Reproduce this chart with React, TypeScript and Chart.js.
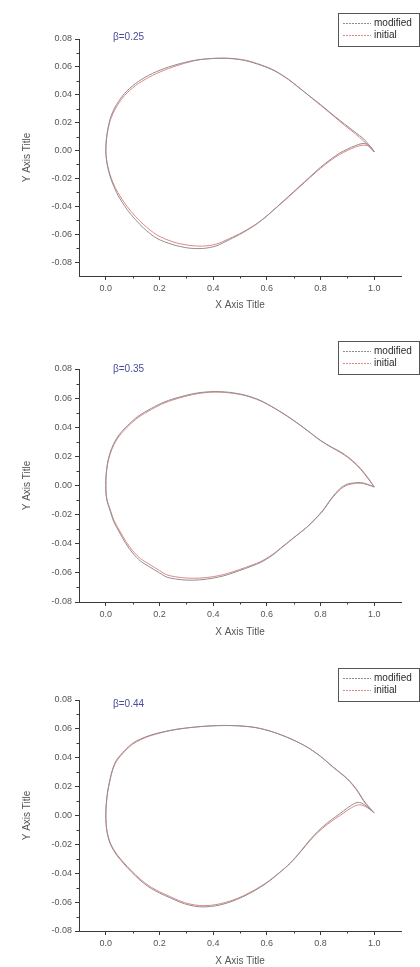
import React, { useEffect, useRef } from 'react';
import { Chart, registerables } from 'chart.js';

Chart.register(...registerables);

// ---------- tick labels / names ----------
const X_TICKS = [0, 0.2, 0.4, 0.6, 0.8, 1.0];
const X_MINOR = [0.1, 0.3, 0.5, 0.7, 0.9];
const Y_TICKS = [-0.08, -0.06, -0.04, -0.02, 0, 0.02, 0.04, 0.06, 0.08];
const Y_MINOR = [-0.07, -0.05, -0.03, -0.01, 0.01, 0.03, 0.05, 0.07];
const SERIES_NAMES = ['modified', 'initial'];
const SECTION_LABELS = ['β=0.25', 'β=0.35', 'β=0.44'];
const X_TITLE = 'X Axis Title';
const Y_TITLE = 'Y Axis Title';

// ---------- section 1 (β=0.25) ----------
const xUp1 = [1.0, 0.985, 0.96, 0.93, 0.89, 0.85, 0.80, 0.76, 0.72, 0.68, 0.63, 0.58, 0.52, 0.46, 0.40, 0.34, 0.28, 0.22, 0.16, 0.11, 0.07, 0.04, 0.02, 0.008, 0.002, 0.0];
const yUpMod1 = [-0.001, 0.003, 0.0085, 0.013, 0.019, 0.025, 0.033, 0.039, 0.045, 0.051, 0.057, 0.061, 0.0645, 0.066, 0.066, 0.065, 0.0625, 0.059, 0.054, 0.048, 0.041, 0.033, 0.025, 0.016, 0.008, 0.0];
const yUpIni1 = [-0.001, 0.002, 0.007, 0.012, 0.018, 0.0245, 0.0325, 0.0388, 0.0452, 0.0512, 0.0573, 0.0614, 0.0648, 0.0662, 0.0661, 0.0648, 0.0618, 0.0578, 0.0525, 0.0465, 0.0395, 0.0315, 0.0235, 0.015, 0.0075, 0.0];
const xLo1 = [0.002, 0.007, 0.015, 0.026, 0.045, 0.078, 0.11, 0.14, 0.19, 0.25, 0.31, 0.36, 0.41, 0.46, 0.51, 0.56, 0.60, 0.64, 0.68, 0.72, 0.76, 0.80, 0.84, 0.87, 0.90, 0.93, 0.955, 0.975, 0.99, 1.0];
const yLoMod1 = [-0.006, -0.012, -0.018, -0.024, -0.032, -0.042, -0.0495, -0.0555, -0.063, -0.0675, -0.0700, -0.0703, -0.0685, -0.064, -0.059, -0.053, -0.047, -0.040, -0.033, -0.026, -0.019, -0.012, -0.006, -0.002, 0.001, 0.0035, 0.005, 0.0045, 0.002, -0.001];
const yLoIni1 = [-0.0055, -0.011, -0.0168, -0.0228, -0.0302, -0.0398, -0.0472, -0.053, -0.0605, -0.0655, -0.068, -0.0686, -0.0672, -0.0632, -0.0585, -0.0528, -0.0468, -0.0402, -0.0335, -0.0265, -0.0195, -0.0128, -0.0068, -0.003, 0.0, 0.0025, 0.0038, 0.0035, 0.0015, -0.001];

// ---------- section 2 (β=0.35) ----------
const xUp2 = [1.0, 0.98, 0.95, 0.92, 0.88, 0.84, 0.80, 0.75, 0.69, 0.63, 0.575, 0.52, 0.46, 0.40, 0.34, 0.28, 0.22, 0.17, 0.12, 0.08, 0.05, 0.03, 0.015, 0.006, 0.001, 0.0];
const yUpMod2 = [-0.001, 0.0045, 0.0115, 0.017, 0.0225, 0.0265, 0.031, 0.038, 0.046, 0.053, 0.0585, 0.062, 0.064, 0.0645, 0.0635, 0.061, 0.0575, 0.053, 0.0475, 0.041, 0.035, 0.029, 0.022, 0.015, 0.007, 0.0];
const yUpIni2 = [-0.001, 0.004, 0.011, 0.0165, 0.022, 0.0262, 0.0308, 0.0378, 0.0458, 0.0528, 0.0582, 0.0617, 0.0636, 0.0641, 0.063, 0.0604, 0.0568, 0.0522, 0.0466, 0.0401, 0.034, 0.028, 0.021, 0.0143, 0.0067, 0.0];
const xLo2 = [0.001, 0.005, 0.015, 0.03, 0.052, 0.075, 0.10, 0.13, 0.164, 0.2, 0.227, 0.26, 0.302, 0.35, 0.40, 0.44, 0.474, 0.52, 0.575, 0.62, 0.66, 0.70, 0.75, 0.78, 0.81, 0.84, 0.873, 0.90, 0.922, 0.94, 0.96, 0.98, 1.0];
const yLoMod2 = [-0.006, -0.011, -0.0168, -0.025, -0.0326, -0.040, -0.0464, -0.052, -0.056, -0.060, -0.0629, -0.0642, -0.065, -0.0648, -0.0636, -0.062, -0.060, -0.057, -0.053, -0.048, -0.042, -0.036, -0.0285, -0.023, -0.0168, -0.009, -0.002, 0.001, 0.0017, 0.002, 0.0017, 0.0005, -0.001];
const yLoIni2 = [-0.0055, -0.0103, -0.0158, -0.0238, -0.0312, -0.0385, -0.0448, -0.0503, -0.0543, -0.0584, -0.0613, -0.0627, -0.0636, -0.0636, -0.0626, -0.0611, -0.0592, -0.0563, -0.0524, -0.0475, -0.0417, -0.0358, -0.0285, -0.0232, -0.0172, -0.0095, -0.0028, 0.0003, 0.0012, 0.0016, 0.0013, 0.0002, -0.001];

// ---------- section 3 (β=0.44) ----------
const xUp3 = [1.0, 0.98, 0.96, 0.936, 0.90, 0.847, 0.80, 0.75, 0.69, 0.623, 0.56, 0.5, 0.44, 0.388, 0.33, 0.265, 0.21, 0.164, 0.13, 0.1, 0.07, 0.04, 0.025, 0.015, 0.007, 0.002, 0.0];
const yUpMod3 = [0.0017, 0.006, 0.0107, 0.0177, 0.0255, 0.0336, 0.041, 0.0474, 0.053, 0.0578, 0.0608, 0.062, 0.0623, 0.062, 0.0612, 0.0598, 0.0578, 0.0555, 0.053, 0.050, 0.045, 0.0384, 0.032, 0.0246, 0.017, 0.009, 0.0017];
const yUpIni3 = [0.0017, 0.0055, 0.0102, 0.0172, 0.0252, 0.0334, 0.0409, 0.0474, 0.0531, 0.0579, 0.0609, 0.0621, 0.0624, 0.0621, 0.0612, 0.0596, 0.0575, 0.0551, 0.0525, 0.0494, 0.0443, 0.0376, 0.0312, 0.0238, 0.0163, 0.0085, 0.0017];
const xLo3 = [0.001, 0.005, 0.015, 0.035, 0.065, 0.095, 0.127, 0.16, 0.2, 0.24, 0.276, 0.31, 0.35, 0.39, 0.425, 0.47, 0.51, 0.555, 0.6, 0.645, 0.687, 0.725, 0.76, 0.79, 0.825, 0.855, 0.885, 0.91, 0.936, 0.955, 0.974, 0.99, 1.0];
const yLoMod3 = [-0.006, -0.012, -0.019, -0.026, -0.033, -0.039, -0.0447, -0.0495, -0.0537, -0.057, -0.060, -0.062, -0.0633, -0.063, -0.062, -0.0595, -0.0564, -0.052, -0.0467, -0.040, -0.033, -0.025, -0.017, -0.011, -0.0052, -0.001, 0.003, 0.0065, 0.009, 0.0085, 0.006, 0.0035, 0.0017];
const yLoIni3 = [-0.0057, -0.0114, -0.0182, -0.0252, -0.0322, -0.0382, -0.0438, -0.0486, -0.0528, -0.0562, -0.0592, -0.0612, -0.0624, -0.0622, -0.0612, -0.0588, -0.0558, -0.0515, -0.0463, -0.0398, -0.0331, -0.0254, -0.0176, -0.0118, -0.0062, -0.0022, 0.0015, 0.0048, 0.0072, 0.0072, 0.0055, 0.0033, 0.0017];

// ---------- styling ----------
const FONT = 'Arial, "Liberation Sans", sans-serif';
const AXIS_COLOR = '#3a3a3a';
const TEXT_COLOR = '#555555';
const MOD_COLOR = '#8e8e8e';
const INI_COLOR = '#e08585';
const LABEL_COLOR = '#4a4aa0';

function toPoints(xa: number[], ya: number[], xb: number[], yb: number[]) {
  const pts: { x: number; y: number }[] = [];
  xa.forEach((x, i) => pts.push({ x, y: ya[i] }));
  xb.forEach((x, i) => pts.push({ x, y: yb[i] }));
  return pts;
}

type PanelCfg = {
  top: number;
  height: number;
  padTop: number;
  padBottom: number;
  xHeight: number;
  yMin: number;
  yMax: number;
  legendTop: number;
  labelY: number;
  label: string;
  mod: { x: number; y: number }[];
  ini: { x: number; y: number }[];
};

const PANELS: PanelCfg[] = [
  { top: 0, height: 320, padTop: 39, padBottom: 9, xHeight: 35, yMin: -0.09, yMax: 0.08, legendTop: 13, labelY: 37, label: SECTION_LABELS[0],
    mod: toPoints(xUp1, yUpMod1, xLo1, yLoMod1), ini: toPoints(xUp1, yUpIni1, xLo1, yLoIni1) },
  { top: 330, height: 320, padTop: 39, padBottom: 12, xHeight: 36, yMin: -0.08, yMax: 0.08, legendTop: 11, labelY: 39, label: SECTION_LABELS[1],
    mod: toPoints(xUp2, yUpMod2, xLo2, yLoMod2), ini: toPoints(xUp2, yUpIni2, xLo2, yLoIni2) },
  { top: 655, height: 312, padTop: 45, padBottom: 0, xHeight: 36, yMin: -0.08, yMax: 0.08, legendTop: 13, labelY: 49, label: SECTION_LABELS[2],
    mod: toPoints(xUp3, yUpMod3, xLo3, yLoMod3), ini: toPoints(xUp3, yUpIni3, xLo3, yLoIni3) },
];

function Panel({ cfg }: { cfg: PanelCfg }) {
  const ref = useRef<HTMLCanvasElement>(null);
  useEffect(() => {
    const decor = {
      id: 'decor',
      afterDraw(chart: any) {
        const ctx = chart.ctx as CanvasRenderingContext2D;
        const xs = chart.scales.x;
        const ys = chart.scales.y;
        const ca = chart.chartArea;
        ctx.save();
        ctx.strokeStyle = AXIS_COLOR;
        ctx.lineWidth = 1;
        X_MINOR.forEach((v) => {
          const px = Math.round(xs.getPixelForValue(v)) + 0.5;
          ctx.beginPath();
          ctx.moveTo(px, ca.bottom);
          ctx.lineTo(px, ca.bottom + 2.5);
          ctx.stroke();
        });
        Y_MINOR.forEach((v) => {
          if (v < cfg.yMin || v > cfg.yMax) return;
          const py = Math.round(ys.getPixelForValue(v)) + 0.5;
          ctx.beginPath();
          ctx.moveTo(ca.left, py);
          ctx.lineTo(ca.left - 2.5, py);
          ctx.stroke();
        });
        // section label
        ctx.fillStyle = LABEL_COLOR;
        ctx.font = `10px ${FONT}`;
        ctx.textAlign = 'left';
        ctx.textBaseline = 'middle';
        ctx.fillText(cfg.label, 113, cfg.labelY);
        // legend
        const lx = 338.5;
        const ly = cfg.legendTop + 0.5;
        ctx.strokeStyle = '#555555';
        ctx.strokeRect(lx, ly, 81, 33);
        const ds = chart.data.datasets;
        ds.forEach((d: any, i: number) => {
          const yy = ly + 10 + i * 12;
          ctx.strokeStyle = d.borderColor;
          ctx.setLineDash([2, 1]);
          ctx.beginPath();
          ctx.moveTo(343, yy);
          ctx.lineTo(371, yy);
          ctx.stroke();
          ctx.setLineDash([]);
          ctx.fillStyle = '#2a2a2a';
          ctx.font = `10px ${FONT}`;
          ctx.textAlign = 'left';
          ctx.textBaseline = 'middle';
          ctx.fillText(d.label, 374, yy);
        });
        ctx.restore();
      },
    };

    const chart = new Chart(ref.current as HTMLCanvasElement, {
      type: 'scatter',
      data: {
        datasets: [
          { label: SERIES_NAMES[0], data: cfg.mod, showLine: true, borderColor: MOD_COLOR, backgroundColor: MOD_COLOR, borderWidth: 1, pointRadius: 0, tension: 0.3, fill: false },
          { label: SERIES_NAMES[1], data: cfg.ini, showLine: true, borderColor: INI_COLOR, backgroundColor: INI_COLOR, borderWidth: 1, pointRadius: 0, tension: 0.3, fill: false },
        ],
      },
      options: {
        animation: false,
        responsive: false,
        maintainAspectRatio: false,
        layout: { padding: { left: 0, top: cfg.padTop, right: 19, bottom: cfg.padBottom } },
        plugins: { legend: { display: false }, tooltip: { enabled: false } },
        scales: {
          x: {
            type: 'linear',
            min: -0.1,
            max: 1.1,
            afterBuildTicks: (s: any) => { s.ticks = X_TICKS.map((v) => ({ value: v })); },
            afterFit: (s: any) => { s.height = cfg.xHeight; },
            grid: { display: true, drawOnChartArea: false, drawTicks: true, tickLength: 4, color: AXIS_COLOR },
            border: { display: true, color: AXIS_COLOR, width: 1 },
            ticks: { autoSkip: false, maxRotation: 0, padding: 3, color: TEXT_COLOR, font: { size: 9, family: FONT }, callback: (v: any) => Number(v).toFixed(1) },
            title: { display: true, text: X_TITLE, color: TEXT_COLOR, font: { size: 10, family: FONT }, padding: { top: 0, bottom: 0 } },
          },
          y: {
            type: 'linear',
            min: cfg.yMin,
            max: cfg.yMax,
            afterBuildTicks: (s: any) => { s.ticks = Y_TICKS.filter((v) => v >= cfg.yMin - 1e-9 && v <= cfg.yMax + 1e-9).map((v) => ({ value: v })); },
            afterFit: (s: any) => { s.width = 79; },
            grid: { display: true, drawOnChartArea: false, drawTicks: true, tickLength: 4, color: AXIS_COLOR },
            border: { display: true, color: AXIS_COLOR, width: 1 },
            ticks: { autoSkip: false, padding: 3, color: TEXT_COLOR, font: { size: 9, family: FONT }, callback: (v: any) => Number(v).toFixed(2) },
            title: { display: true, text: Y_TITLE, color: TEXT_COLOR, font: { size: 10, family: FONT }, padding: { top: 21, bottom: 0 } },
          },
        },
      },
      plugins: [decor],
    } as any);
    return () => chart.destroy();
  }, [cfg]);

  return (
    <div style={{ position: 'absolute', left: 0, top: cfg.top, width: 420, height: cfg.height }}>
      <canvas ref={ref} width={420} height={cfg.height} style={{ display: 'block', width: 420, height: cfg.height }} />
    </div>
  );
}

export default function App() {
  return (
    <div style={{ position: 'absolute', left: 0, top: 0, width: 420, height: 967, background: '#ffffff', overflow: 'hidden' }}>
      {PANELS.map((p, i) => (
        <Panel key={i} cfg={p} />
      ))}
    </div>
  );
}
